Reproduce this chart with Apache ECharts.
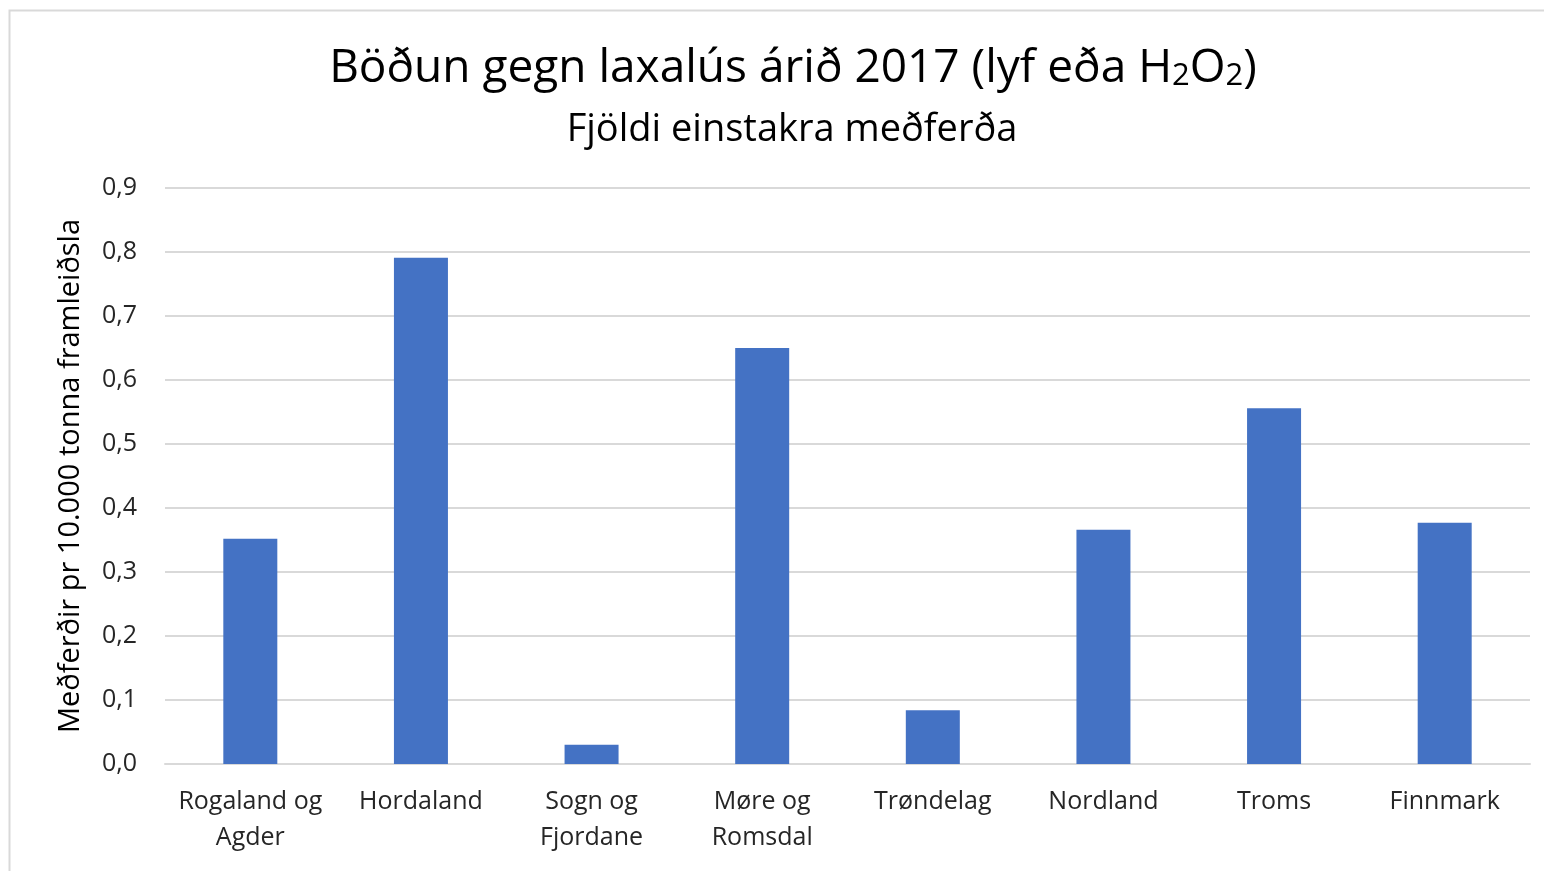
<!DOCTYPE html>
<html>
<head>
<meta charset="utf-8">
<script src="https://cdn.jsdelivr.net/npm/echarts@6/dist/echarts.min.js"></script>
<style>
  html, body { margin: 0; padding: 0; background: #fff; }
  #chart { width: 1544px; height: 871px; }
</style>
</head>
<body>
<div id="chart"></div>
<script>
var regions = ['Rogaland og\nAgder', 'Hordaland', 'Sogn og\nFjordane', 'Møre og\nRomsdal', 'Trøndelag', 'Nordland', 'Troms', 'Finnmark'];
var treatments = [0.352, 0.791, 0.030, 0.650, 0.084, 0.366, 0.556, 0.377];
var yTicks = ['0,0', '0,1', '0,2', '0,3', '0,4', '0,5', '0,6', '0,7', '0,8', '0,9'];

var FONT = '"Open Sans", "Noto Sans", sans-serif';

var chart = echarts.init(document.getElementById('chart'));

var option = {
    backgroundColor: '#fff',
    animation: false,
    graphic: [{
        type: 'rect',
        shape: { x: 9.5, y: 10.5, width: 1560, height: 900 },
        style: { fill: 'none', stroke: '#d9d9d9', lineWidth: 2 }
    }],
    title: [{
        text: 'Böðun gegn laxalús árið 2017 (lyf eða H{s|2}O{s|2})',
        left: 788,
        top: 40,
        textAlign: 'center',
        textStyle: {
            fontFamily: FONT,
            fontSize: 46,
            fontWeight: 'normal',
            color: '#000',
            rich: {
                s: { fontFamily: FONT, fontSize: 31, color: '#000', padding: [16, 0, 0, 0] }
            }
        }
    }, {
        text: 'Fjöldi einstakra meðferða',
        left: 787,
        top: 106,
        textAlign: 'center',
        textStyle: {
            fontFamily: FONT,
            fontSize: 38,
            fontWeight: 'normal',
            color: '#000'
        }
    }],
    grid: {
        left: 165,
        right: 14,
        top: 188,
        bottom: 107,
        containLabel: false
    },
    xAxis: {
        type: 'category',
        data: regions,
        axisLine: { show: true, lineStyle: { color: '#d9d9d9', width: 2 } },
        axisTick: { show: false },
        axisLabel: {
            fontFamily: FONT,
            fontSize: 25,
            color: '#262626',
            lineHeight: 36,
            margin: 20,
            interval: 0
        }
    },
    yAxis: {
        type: 'value',
        min: 0,
        max: 0.9,
        interval: 0.1,
        name: 'Meðferðir pr 10.000 tonna framleiðsla',
        nameLocation: 'middle',
        nameGap: 80,
        nameTextStyle: {
            fontFamily: FONT,
            fontSize: 29,
            color: '#000'
        },
        axisLine: { show: false },
        axisTick: { show: false },
        axisLabel: {
            fontFamily: FONT,
            fontSize: 25,
            color: '#262626',
            margin: 28,
            formatter: function (v) {
                return yTicks[Math.round(v * 10)];
            }
        },
        splitLine: { lineStyle: { color: '#d9d9d9', width: 2 } }
    },
    series: [{
        type: 'bar',
        data: treatments,
        barWidth: 54,
        itemStyle: { color: '#4472c4' }
    }]
};

chart.setOption(option);
</script>
</body>
</html>
